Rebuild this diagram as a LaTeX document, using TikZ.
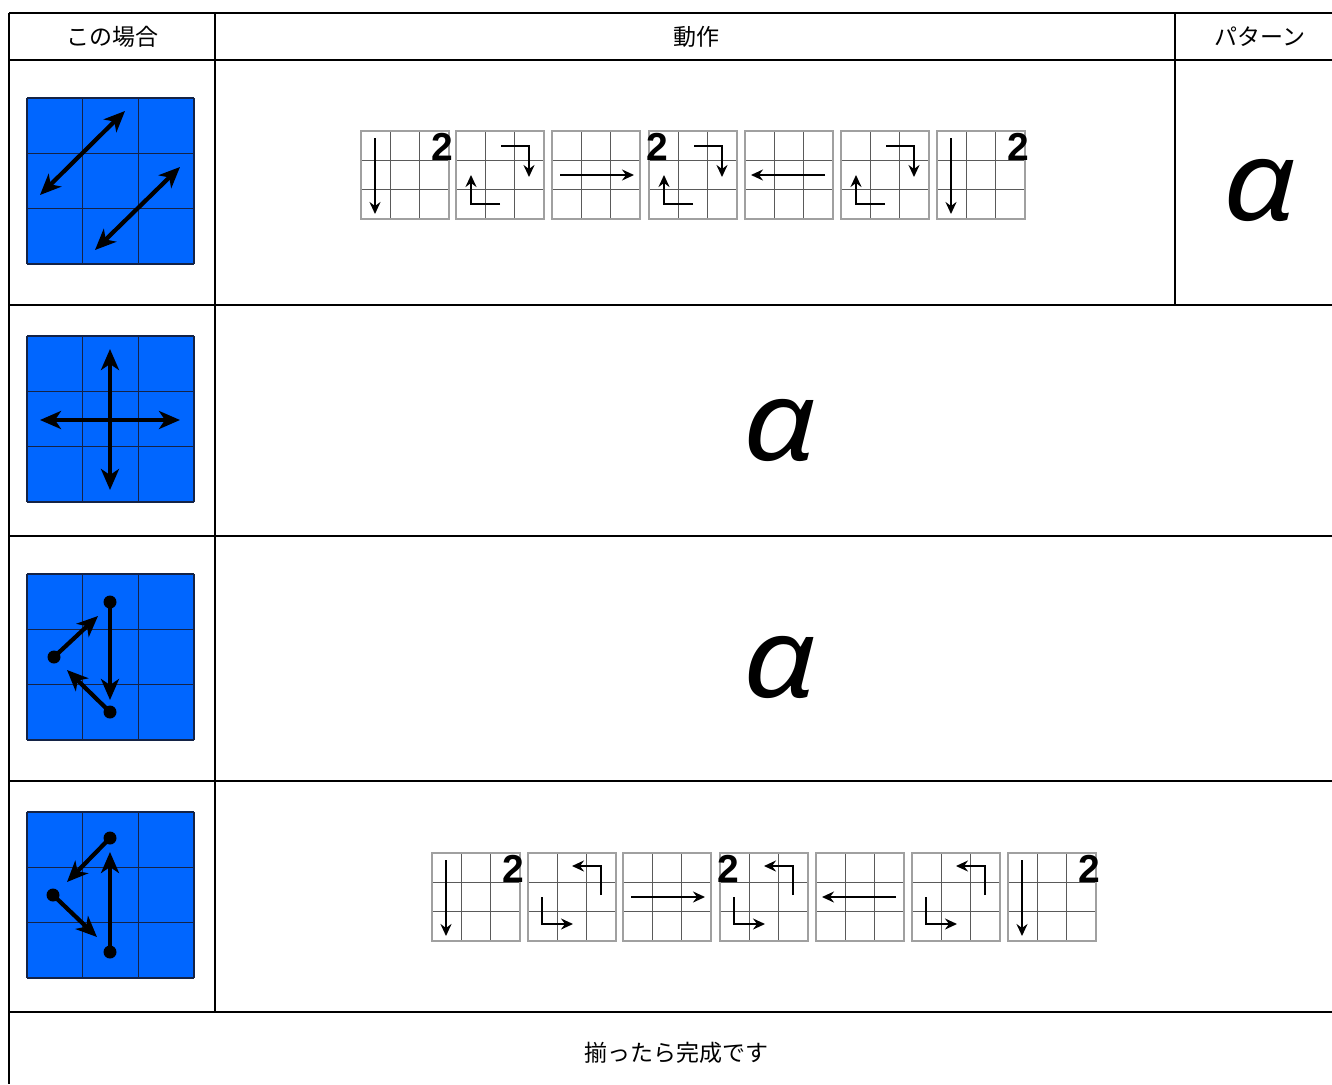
\documentclass[tikz,border=0pt]{standalone}
\usepackage{fontspec}
\setmainfont{Noto Sans}
\newfontfamily\jpfont{Noto Sans CJK JP}
\newfontfamily\digfont{Liberation Sans}
\usetikzlibrary{arrows.meta}
\definecolor{cellblue}{RGB}{0,102,255}
\definecolor{gline}{RGB}{20,35,70}
\definecolor{sinner}{RGB}{90,90,90}
\definecolor{souter}{RGB}{160,160,160}
\begin{document}
\begin{tikzpicture}[x=1pt,y=-1pt,
  tab/.style={line width=2.2pt,black},
  hdr/.style={font=\jpfont\fontsize{23}{23}\selectfont,inner sep=0pt},
  alph/.style={font=\fontsize{112}{112}\selectfont\itshape,inner sep=0pt,xscale=1.15},
  bigarr/.style={line width=4.2pt,-{Stealth[length=21pt,width=18pt,inset=6pt]}},
  bigdbl/.style={line width=4.2pt,{Stealth[length=21pt,width=18pt,inset=6pt]}-{Stealth[length=21pt,width=18pt,inset=6pt]}},
  sarr/.style={line width=2.4pt,-{Stealth[length=12pt,width=11pt,inset=4pt]}},
  twostyle/.style={font=\digfont\bfseries\fontsize{39}{39}\selectfont,inner sep=0pt},
  dot/.style={fill=black},
  bgrid/.pic={
    \fill[cellblue] (0,0) rectangle (167,166);
    \foreach \i in {0,1,2,3}{
      \draw[gline,line width=1.4pt] (\i*55.67,0) -- (\i*55.67,166);
      \draw[gline,line width=1.4pt] (0,\i*55.33) -- (167,\i*55.33);
    }
  },
  sgrid/.pic={
    \fill[white] (0,0) rectangle (88,88);
    \foreach \i in {1,2}{
      \draw[sinner,line width=1.1pt] (\i*29.33,0) -- (\i*29.33,88);
      \draw[sinner,line width=1.1pt] (0,\i*29.33) -- (88,\i*29.33);
    }
    \draw[souter,line width=1.1pt] (0,0) rectangle (88,88);
  },
  sgdown/.pic={\draw[sarr] (14,7) -- (14,83);},
  sgright/.pic={\draw[sarr] (8,44) -- (82,44);},
  sgleft/.pic={\draw[sarr] (80,44) -- (6,44);},
  sgbentA/.pic={\draw[sarr] (45,15) -- (73,15) -- (73,46);
                \draw[sarr] (44,73) -- (15,73) -- (15,44);},
  sgbentB/.pic={\draw[sarr] (73,42) -- (73,13) -- (44,13);
                \draw[sarr] (14,44) -- (14,71) -- (45,71);},
  twoR/.pic={\node[twostyle] (-n) at (81,16) {2};},
  twoL/.pic={\node[twostyle] (-n) at (8,16) {2};}
]
\useasboundingbox (0,0) rectangle (1332,1084);
\fill[white] (0,0) rectangle (1332,1084);

% table rules
\draw[tab] (9,13) -- (1332,13);
\draw[tab] (9,60) -- (1332,60);
\draw[tab] (9,305) -- (1332,305);
\draw[tab] (9,536) -- (1332,536);
\draw[tab] (9,781) -- (1332,781);
\draw[tab] (9,1012) -- (1332,1012);
\draw[tab] (9,13) -- (9,1084);
\draw[tab] (215,13) -- (215,1012);
\draw[tab] (1175,13) -- (1175,305);

% header
\node[hdr] (h1) at (112,37) {この場合};
\node[hdr] (h2) at (696,37) {動作};
\node[hdr] (h3) at (1260,37) {パターン};

% blue grids
\pic (b1) at (27,98) {bgrid};
\pic (b2) at (27,336) {bgrid};
\pic (b3) at (27,574) {bgrid};
\pic (b4) at (27,812) {bgrid};

% grid 1 arrows
\draw[bigdbl] (40,195) -- (125,111);
\draw[bigdbl] (95,250) -- (180,167);
% grid 2 arrows
\draw[bigdbl] (110,349) -- (110,490);
\draw[bigdbl] (40,420) -- (180,420);
% grid 3 arrows
\fill[dot] (110,602) circle[radius=6.5pt];
\draw[bigarr] (110,602) -- (110,700);
\fill[dot] (54,657) circle[radius=6.5pt];
\draw[bigarr] (54,657) -- (98,616);
\fill[dot] (110,712) circle[radius=6.5pt];
\draw[bigarr] (110,712) -- (67,670);
% grid 4 arrows
\fill[dot] (110,838) circle[radius=6.5pt];
\draw[bigarr] (110,838) -- (67,882);
\fill[dot] (53,895) circle[radius=6.5pt];
\draw[bigarr] (53,895) -- (97,937);
\fill[dot] (110,952) circle[radius=6.5pt];
\draw[bigarr] (110,952) -- (110,852);

% row 1 small grids
\pic (r1a) at (361,131) {sgrid}; \pic at (361,131) {sgdown}; \pic (r1at) at (361,131) {twoR};
\pic (r1b) at (456,131) {sgrid}; \pic at (456,131) {sgbentA};
\pic (r1c) at (552,131) {sgrid}; \pic at (552,131) {sgright};
\pic (r1d) at (649,131) {sgrid}; \pic at (649,131) {sgbentA}; \pic (r1dt) at (649,131) {twoL};
\pic (r1e) at (745,131) {sgrid}; \pic at (745,131) {sgleft};
\pic (r1f) at (841,131) {sgrid}; \pic at (841,131) {sgbentA};
\pic (r1g) at (937,131) {sgrid}; \pic at (937,131) {sgdown}; \pic (r1gt) at (937,131) {twoR};

% row 4 small grids
\pic (r4a) at (432,853) {sgrid}; \pic at (432,853) {sgdown}; \pic (r4at) at (432,853) {twoR};
\pic (r4b) at (528,853) {sgrid}; \pic at (528,853) {sgbentB};
\pic (r4c) at (623,853) {sgrid}; \pic at (623,853) {sgright};
\pic (r4d) at (720,853) {sgrid}; \pic at (720,853) {sgbentB}; \pic (r4dt) at (720,853) {twoL};
\pic (r4e) at (816,853) {sgrid}; \pic at (816,853) {sgleft};
\pic (r4f) at (912,853) {sgrid}; \pic at (912,853) {sgbentB};
\pic (r4g) at (1008,853) {sgrid}; \pic at (1008,853) {sgdown}; \pic (r4gt) at (1008,853) {twoR};

% alphas
\node[alph] (a1) at (1260,190) {α};
\node[alph] (a2) at (780,430) {α};
\node[alph] (a3) at (780,667) {α};

% footer
\node[hdr] (f) at (676,1053) {揃ったら完成です};
\end{tikzpicture}
\end{document}
